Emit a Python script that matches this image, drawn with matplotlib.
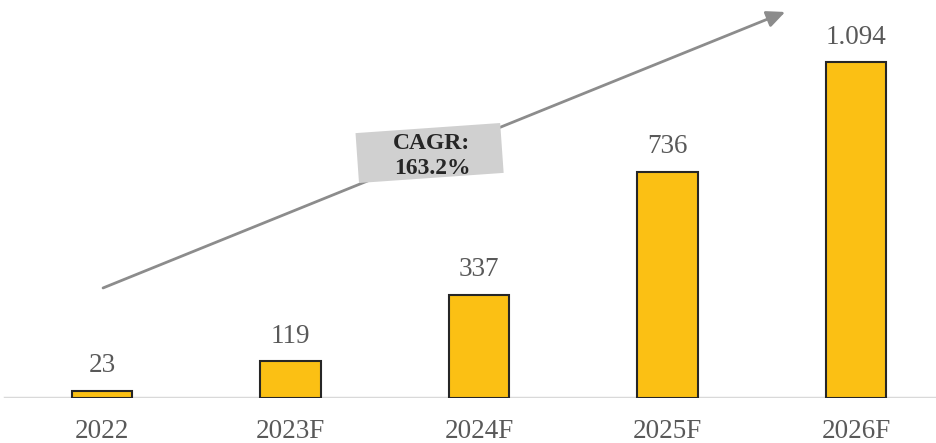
import matplotlib.pyplot as plt
from matplotlib.patches import Rectangle
import matplotlib.transforms as mtransforms

years = ["2022", "2023F", "2024F", "2025F", "2026F"]
values = [23, 119, 337, 736, 1094]
value_labels = ["23", "119", "337", "736", "1.094"]
cagr_text = "CAGR:\n163.2%"

plt.rcParams["font.family"] = ["Liberation Serif", "DejaVu Serif"]

fig = plt.figure(figsize=(9.37, 4.43), dpi=100)
ax = fig.add_axes([0, 0.1016, 1, 0.8984])

x = list(range(len(years)))
ax.bar(x, values, width=0.32, color="#FBC014", edgecolor="#262626",
       linewidth=1.5, zorder=3)

for xi, v, lab in zip(x, values, value_labels):
    ax.annotate(lab, (xi, v), xytext=(0, 18), textcoords="offset points",
                ha="center", va="center", fontsize=19.5, color="#595959")

ax.set_xlim(-0.541, 4.430)
ax.set_ylim(0, 1296)
for s in ax.spines.values():
    s.set_visible(False)
ax.axhline(0, xmin=0.005, xmax=1, color="#d9d9d9", linewidth=2.5, zorder=2)
ax.set_yticks([])
ax.set_xticks(x)
ax.set_xticklabels(years, fontsize=19.5, color="#595959")
ax.tick_params(axis="x", length=0, pad=15)

# growth arrow across the chart
ax.annotate("", xy=(0.838, 0.973), xytext=(0.110, 0.350),
            xycoords="figure fraction", textcoords="figure fraction",
            arrowprops=dict(arrowstyle="-|>,head_length=1.1,head_width=0.5",
                            color="#8c8c8c", lw=2, shrinkA=0, shrinkB=0),
            zorder=4)

# tilted grey box behind the CAGR label (pixel coordinates)
box = Rectangle((359, 260), 145, 50, facecolor="#d0d0d0", edgecolor="none",
                zorder=5,
                transform=mtransforms.Affine2D().rotate_deg_around(359, 260, 4))
fig.patches.append(box)
fig.text(432 / 937, 1 - 156 / 443, cagr_text, ha="center", va="center",
         fontsize=17, fontweight="bold", color="#262626", linespacing=1.3,
         zorder=6)

fig.savefig("out.png", dpi=100)
